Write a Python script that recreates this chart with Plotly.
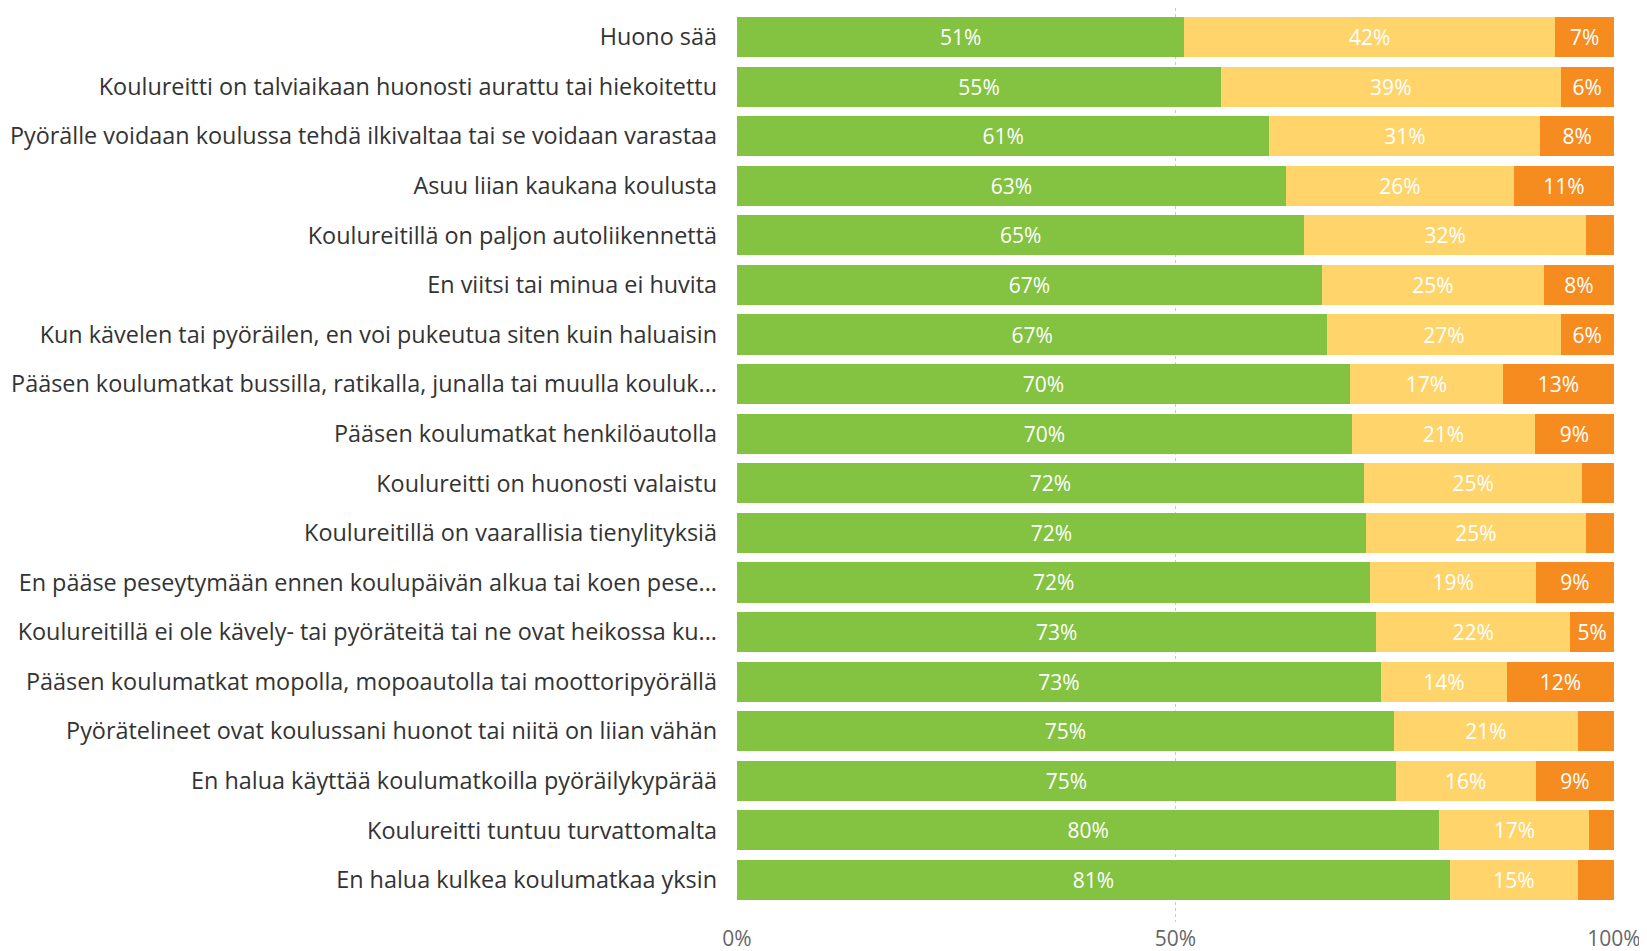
import plotly.graph_objects as go

categories = [
    "Huono sää",
    "Koulureitti on talviaikaan huonosti aurattu tai hiekoitettu",
    "Pyörälle voidaan koulussa tehdä ilkivaltaa tai se voidaan varastaa",
    "Asuu liian kaukana koulusta",
    "Koulureitillä on paljon autoliikennettä",
    "En viitsi tai minua ei huvita",
    "Kun kävelen tai pyöräilen, en voi pukeutua siten kuin haluaisin",
    "Pääsen koulumatkat bussilla, ratikalla, junalla tai muulla kouluk...",
    "Pääsen koulumatkat henkilöautolla",
    "Koulureitti on huonosti valaistu",
    "Koulureitillä on vaarallisia tienylityksiä",
    "En pääse peseytymään ennen koulupäivän alkua tai koen pese...",
    "Koulureitillä ei ole kävely- tai pyöräteitä tai ne ovat heikossa ku...",
    "Pääsen koulumatkat mopolla, mopoautolla tai moottoripyörällä",
    "Pyörätelineet ovat koulussani huonot tai niitä on liian vähän",
    "En halua käyttää koulumatkoilla pyöräilykypärää",
    "Koulureitti tuntuu turvattomalta",
    "En halua kulkea koulumatkaa yksin",
]

green = [51.0, 55.2, 60.7, 62.6, 64.7, 66.7, 67.3, 69.9, 70.1, 71.5,
         71.7, 72.2, 72.9, 73.4, 74.9, 75.1, 80.1, 81.3]
yellow = [42.3, 38.7, 30.9, 26.0, 32.1, 25.3, 26.6, 17.4, 20.9, 24.9,
          25.1, 18.9, 22.1, 14.4, 21.0, 16.0, 17.1, 14.6]
orange = [6.7, 6.1, 8.4, 11.4, 3.2, 8.0, 6.1, 12.7, 9.0, 3.6,
          3.2, 8.9, 5.0, 12.2, 4.1, 8.9, 2.8, 4.1]

colors = ["#83C341", "#FED46B", "#F68B1F"]
ticks = [0, 50, 100]
tick_labels = ["0%", "50%", "100%"]

FONT = "Open Sans"


def pct_text(values, min_show=4.5):
    # small segments get no label, as in the original
    return [f"{v:.0f}%" if v >= min_show else "" for v in values]


fig = go.Figure()
for vals, col in zip([green, yellow, orange], colors):
    fig.add_trace(go.Bar(
        y=categories,
        x=vals,
        orientation='h',
        marker=dict(color=col, line=dict(width=0)),
        text=pct_text(vals),
        textposition='inside',
        insidetextanchor='middle',
        textangle=0,
        textfont=dict(color='white', size=21, family=FONT),
        hoverinfo='skip',
        showlegend=False,
    ))

n = len(categories)
# the page body has an 8px margin, so the figure is laid out 8px up/left
fig.update_layout(
    barmode='stack',
    bargap=0.19,
    width=1647,
    height=951,
    margin=dict(l=729, r=41, t=0, b=37),
    plot_bgcolor='white',
    paper_bgcolor='white',
    font=dict(family=FONT, color='#333333'),
    uniformtext=dict(minsize=8, mode='show'),
)
fig.update_xaxes(
    range=[0, 100],
    tickvals=ticks,
    ticktext=tick_labels,
    showgrid=True,
    gridcolor='#c8c8c8',
    griddash='dot',
    gridwidth=1,
    zeroline=False,
    showline=False,
    tickfont=dict(size=21, color='#666666'),
    ticklabelstandoff=2,
    automargin=False,
)
fig.update_yaxes(
    categoryorder='array',
    categoryarray=categories,
    range=[n - 1 + 0.847, -0.585],
    tickfont=dict(size=23.4, color='#333333'),
    ticklabelstandoff=19,
    showgrid=False,
    automargin=False,
)

fig.write_html("out.html")
